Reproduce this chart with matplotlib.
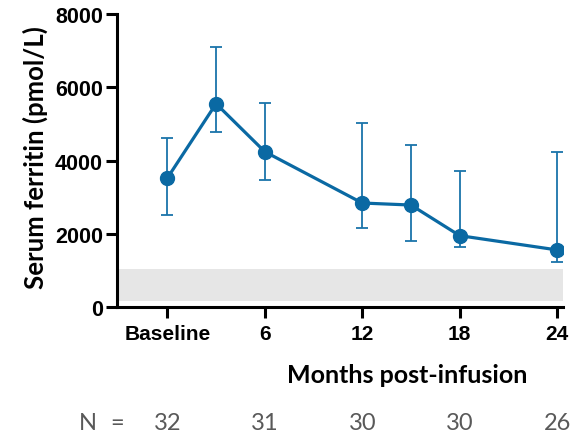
import matplotlib
matplotlib.use("Agg")
import matplotlib.pyplot as plt

# Data
months = [0, 3, 6, 12, 15, 18, 24]
ferritin = [3525, 5555, 4245, 2845, 2790, 1955, 1565]
err_upper = [4625, 7110, 5575, 5035, 4435, 3730, 4235]
err_lower = [2505, 4790, 3460, 2175, 1805, 1648, 1246]
tick_pos = [0, 6, 12, 18, 24]
tick_labels = ["Baseline", "6", "12", "18", "24"]
n_pos = [0, 6, 12, 18, 24]
n_values = ["32", "31", "30", "30", "26"]
normal_range = (180, 1045)

color = "#0a69a3"

fig = plt.figure(figsize=(5.72, 4.39), dpi=100)
ax = fig.add_axes([0.2045, 0.2977, 0.7795, 0.668])

# Normal range band
ax.axhspan(normal_range[0], normal_range[1], xmin=0.003, xmax=1.0, color="#e6e6e6", zorder=0, lw=0)

yerr = [[v - l for v, l in zip(ferritin, err_lower)],
        [u - v for u, v in zip(err_upper, ferritin)]]
ax.errorbar(months, ferritin, yerr=yerr, fmt="none", ecolor="#1a74aa", elinewidth=1.3,
            capsize=4.3, capthick=1.3, zorder=2)
ax.plot(months, ferritin, color=color, lw=2.3, marker="o", markersize=10, zorder=3)

ax.set_xlim(-3.1, 24.35)
ax.set_ylim(0, 8000)
ax.set_yticks([0, 2000, 4000, 6000, 8000])
ax.set_xticks(tick_pos)
ax.set_xticklabels(tick_labels)

for s in ["top", "right"]:
    ax.spines[s].set_visible(False)
for s in ["left", "bottom"]:
    ax.spines[s].set_linewidth(2.2)
ax.tick_params(axis="both", width=2.2, length=8, direction="out")
ax.tick_params(axis="y", pad=2)
ax.tick_params(axis="x", pad=4)
for lbl in ax.get_yticklabels() + ax.get_xticklabels():
    lbl.set_fontfamily("Liberation Sans")
    lbl.set_fontweight("bold")
for lbl in ax.get_yticklabels():
    lbl.set_fontsize(15.5)
for lbl in ax.get_xticklabels():
    lbl.set_fontsize(15)

fig.text(35 / 572, 1 - 158 / 439, "Serum ferritin (pmol/L)", rotation=90,
         ha="center", va="center", fontsize=18.5, fontweight="bold", family="Lato")
fig.text(407.5 / 572, 1 - 376 / 439, "Months post-infusion", ha="center", va="center",
         fontsize=18, fontweight="bold", family="Lato")

# N row
ny = 1 - 424 / 439
fig.text(88 / 572, ny, "N", ha="center", va="center", fontsize=17, family="Lato", color="#595959")
fig.text(117 / 572, ny, "=", ha="center", va="center", fontsize=17, family="Lato", color="#595959")
for p, v in zip(n_pos, n_values):
    xd = ax.transData.transform((p, 0))[0]
    fig.text(xd / fig.bbox.width, ny, v, ha="center", va="center", fontsize=17,
             family="Lato", color="#595959")

fig.savefig("out.png", dpi=100)
